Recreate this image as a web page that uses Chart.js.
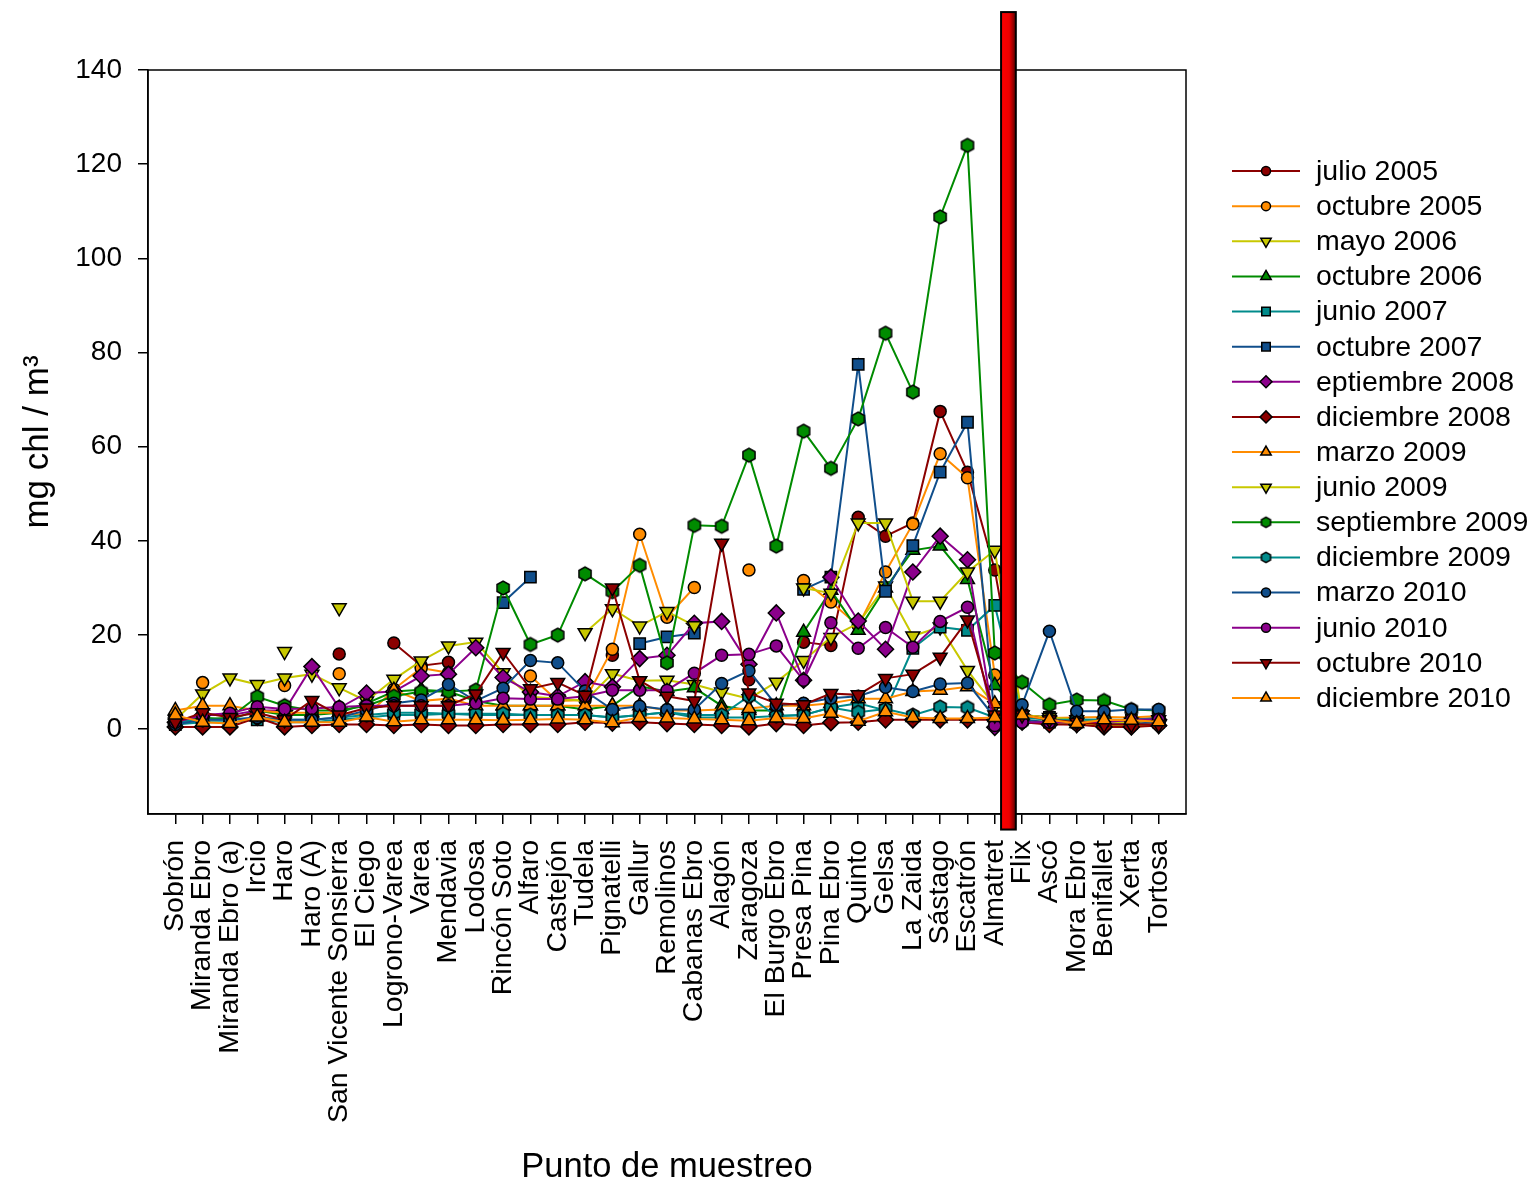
<!DOCTYPE html>
<html>
<head>
<meta charset="utf-8">
<script src="https://cdn.jsdelivr.net/npm/chart.js"></script>
<style>
  html, body { margin: 0; padding: 0; background: #fff; }
  #wrap { width: 1533px; height: 1181px; }
</style>
</head>
<body>
<div id="wrap"><canvas id="chl"></canvas></div>
<script>
const stations = ["Sobrón", "Miranda Ebro", "Miranda Ebro (a)", "Ircio", "Haro", "Haro (A)",
  "San Vicente Sonsierra", "El Ciego", "Logrono-Varea", "Varea", "Mendavia", "Lodosa",
  "Rincón Soto", "Alfaro", "Castejón", "Tudela", "Pignatelli", "Gallur", "Remolinos",
  "Cabanas Ebro", "Alagón", "Zaragoza", "El Burgo Ebro", "Presa Pina", "Pina Ebro", "Quinto",
  "Gelsa", "La Zaida", "Sástago", "Escatrón", "Almatret", "Flix", "Ascó", "Mora Ebro",
  "Benifallet", "Xerta", "Tortosa"];

const yTicks = [0, 20, 40, 60, 80, 100, 120, 140];

const julio2005 = [null, null, null, null, null, null, 16.0, null, 18.3, 13.5, 14.2, null, null, null, null, null, 15.7, null, null, null, null, 10.5, null, 18.5, 17.8, 45.0, 41.0, 43.8, 67.5, 54.6, 33.8, 1.5, 1.2, 1.0, 1.0, 0.8, 1.0];
const octubre2005 = [null, 9.9, null, null, 9.3, null, 11.8, null, 8.5, 13.0, 12.0, null, null, 11.3, 6.0, 6.2, 17.0, 41.4, 23.8, 30.1, null, 33.8, null, 31.6, 27.0, 22.0, 33.4, 43.6, 58.5, 53.4, 11.5, 3.0, 2.0, 1.5, 1.5, 1.5, 1.5];
const mayo2006 = [2.0, 7.5, 10.9, 9.5, 10.9, 11.7, 8.8, 6.0, 10.6, 14.5, 17.7, 18.5, 12.0, 6.9, 6.5, 6.0, 11.8, 10.3, 10.4, 9.5, 7.9, 6.5, 10.0, 14.6, 19.5, 22.5, 30.4, 19.8, 21.7, 12.5, 5.0, 2.0, 1.5, 1.0, 0.8, 0.6, 0.8];
const octubre2006 = [2.0, 2.5, 2.0, 4.0, 3.0, 3.0, 3.5, 5.5, 8.0, 8.4, 8.0, 6.0, 5.0, 5.0, 5.0, 4.2, 5.0, 9.1, 8.0, 8.8, 5.0, 4.0, 4.0, 20.6, 29.5, 21.0, 30.0, 38.0, 38.9, 31.8, 9.3, 3.0, 2.0, 2.0, 1.5, 1.5, 1.5];
const junio2007 = [1.0, 1.5, 1.5, 2.0, 1.5, 1.5, 2.0, 2.5, 3.0, 3.0, 3.3, 3.0, 3.0, 3.0, 3.0, 3.0, 2.5, 3.0, 3.6, 2.5, 2.5, 2.5, 2.8, 3.0, 4.6, 5.5, 4.0, 17.2, 21.7, 21.0, 26.3, 3.0, 2.5, 2.0, 2.0, 2.0, 2.5];
const octubre2007 = [null, null, null, null, null, null, null, null, null, null, null, null, 26.9, 32.3, null, null, null, 18.2, 19.6, 20.4, null, null, null, 29.7, 32.3, 77.5, 29.3, 39.0, 54.6, 65.2, 2.0, 2.0, 1.5, 1.5, 1.2, 1.2, 1.5];
const eptiembre2008 = [1.5, 3.0, 3.0, 4.0, 4.0, 13.3, 4.5, 7.7, 8.0, 11.3, 11.7, 17.3, 11.0, 7.9, 7.0, 10.1, 9.0, 15.0, 15.7, 22.5, 22.9, 13.8, 24.7, 10.4, 32.3, 23.0, 17.0, 33.4, 41.0, 36.0, 0.4, 3.0, 2.5, 2.0, 1.5, 1.5, 2.0];
const diciembre2008 = [0.5, 0.5, 0.5, 2.5, 0.5, 0.8, 1.0, 1.0, 0.8, 1.0, 0.8, 0.8, 1.0, 1.0, 1.0, 1.5, 1.3, 1.5, 1.2, 1.0, 0.8, 0.5, 1.2, 0.8, 1.4, 1.5, 2.0, 2.0, 2.0, 2.0, 2.0, 1.5, 1.0, 1.0, 0.5, 0.5, 0.8];
const marzo2009 = [4.0, 5.0, 5.0, 4.0, 3.5, 3.5, 3.5, 3.0, 8.3, 6.0, 6.5, 5.0, 5.0, 5.0, 5.0, 5.0, 5.0, 5.0, 4.0, 4.0, 4.2, 4.4, 5.0, 5.0, 5.5, 6.5, 6.5, 8.0, 8.3, 9.0, 5.4, 3.0, 2.4, 2.5, 2.6, 2.5, 2.8];
const junio2009 = [null, null, null, null, 16.5, null, 25.8, null, null, null, null, null, null, null, null, 20.5, 25.6, 21.9, 25.0, 22.0, null, null, null, 30.0, 28.9, 43.8, 43.8, 27.2, 27.2, 33.4, 38.0, 3.0, 2.5, 2.0, 1.5, 1.5, 2.0];
const septiembre2009 = [1.5, 2.0, 2.5, 6.9, 5.0, 4.0, 4.0, 5.0, 7.0, 8.0, 8.0, 8.3, 30.0, 18.0, 20.0, 33.0, 29.2, 34.8, 14.1, 43.3, 43.1, 58.2, 38.9, 63.3, 55.4, 65.9, 84.1, 71.6, 108.8, 124.0, 16.2, 10.0, 5.2, 6.2, 6.1, 4.2, 4.0];
const diciembre2009 = [1.5, 2.0, 2.0, 2.5, 2.0, 2.0, 2.5, 3.0, 3.5, 3.5, 3.3, 3.3, 3.3, 3.0, 3.0, 3.0, 2.5, 3.0, 3.6, 3.0, 3.0, 7.0, 2.8, 3.0, 4.6, 3.6, 4.3, 3.0, 4.7, 4.6, 2.5, 2.5, 2.0, 2.0, 2.0, 1.8, 2.0];
const marzo2010 = [1.0, 2.0, 2.0, 2.5, 2.0, 2.0, 2.5, 4.0, 5.5, 6.2, 9.5, 6.0, 8.7, 14.6, 14.1, 8.1, 4.2, 4.9, 4.2, 4.2, 9.7, 12.4, 5.1, 5.5, 6.6, 7.0, 8.9, 8.0, 9.6, 9.8, 2.5, 5.2, 20.8, 3.8, 3.8, 4.2, 4.2];
const junio2010 = [1.5, 3.0, 3.4, 4.8, 4.3, 4.4, 4.7, 5.0, 5.0, 5.0, 5.0, 5.5, 6.6, 6.4, 6.4, 7.0, 8.3, 8.3, 8.3, 11.9, 15.7, 15.9, 17.7, 10.4, 22.6, 17.2, 21.6, 17.4, 22.9, 25.9, 0.8, 1.5, 1.5, 1.5, 1.5, 2.0, 2.1];
const octubre2010 = [1.5, 3.5, 2.5, 3.5, 2.0, 6.1, 3.0, 4.5, 5.0, 5.0, 5.0, 7.5, 16.3, 8.6, 9.9, 7.2, 30.0, 10.3, 7.0, 6.0, 39.5, 7.7, 5.5, 5.2, 7.6, 7.3, 10.8, 11.7, 15.3, 23.2, 3.0, 3.0, 2.0, 1.5, 1.0, 1.0, 1.0];
const diciembre2010 = [3.0, 1.5, 1.2, 2.6, 1.5, 1.5, 1.5, 2.6, 1.6, 2.0, 2.0, 2.0, 1.9, 2.0, 2.2, 2.0, 1.4, 2.5, 2.4, 2.2, 2.0, 1.8, 2.4, 2.3, 3.4, 1.7, 3.7, 2.5, 2.3, 2.3, 2.5, 3.0, 2.0, 1.2, 2.0, 1.9, 1.6];

const DARKRED = "#8B0000", ORANGE = "#FF8C00", YELLOW = "#C8C800", GREEN = "#008B00",
  TEAL = "#008B8B", BLUE = "#104E8B", PURPLE = "#8B008B";

// little hexagon marker image (no built-in hexagon in Chart.js)
function hexagon(color, r) {
  const c = document.createElement("canvas");
  const s = Math.ceil(2 * r + 4);
  c.width = c.height = s;
  const g = c.getContext("2d");
  g.beginPath();
  for (let k = 0; k < 6; k++) {
    const a = Math.PI / 6 + k * Math.PI / 3;
    const px = s / 2 + r * Math.cos(a), py = s / 2 + r * Math.sin(a);
    k ? g.lineTo(px, py) : g.moveTo(px, py);
  }
  g.closePath();
  g.fillStyle = color;
  g.fill();
  g.lineWidth = 1.5;
  g.strokeStyle = "#000";
  g.stroke();
  return c;
}

const series = [
  { label: "julio 2005", data: julio2005, color: DARKRED, shape: "circle" },
  { label: "octubre 2005", data: octubre2005, color: ORANGE, shape: "circle" },
  { label: "mayo 2006", data: mayo2006, color: YELLOW, shape: "down" },
  { label: "octubre 2006", data: octubre2006, color: GREEN, shape: "up" },
  { label: "junio 2007", data: junio2007, color: TEAL, shape: "square" },
  { label: "octubre 2007", data: octubre2007, color: BLUE, shape: "square" },
  { label: "eptiembre 2008", data: eptiembre2008, color: PURPLE, shape: "diamond" },
  { label: "diciembre 2008", data: diciembre2008, color: DARKRED, shape: "diamond" },
  { label: "marzo 2009", data: marzo2009, color: ORANGE, shape: "up" },
  { label: "junio 2009", data: junio2009, color: YELLOW, shape: "down" },
  { label: "septiembre 2009", data: septiembre2009, color: GREEN, shape: "hex" },
  { label: "diciembre 2009", data: diciembre2009, color: TEAL, shape: "hex" },
  { label: "marzo 2010", data: marzo2010, color: BLUE, shape: "circle" },
  { label: "junio 2010", data: junio2010, color: PURPLE, shape: "circle" },
  { label: "octubre 2010", data: octubre2010, color: DARKRED, shape: "down" },
  { label: "diciembre 2010", data: diciembre2010, color: ORANGE, shape: "up" },
];

function markerOpts(s, scale) {
  switch (s.shape) {
    case "circle": return { pointStyle: "circle", pointRadius: 6 * scale, pointRotation: 0 };
    case "up": return { pointStyle: "triangle", pointRadius: 8 * scale, pointRotation: 0 };
    case "down": return { pointStyle: "triangle", pointRadius: 8 * scale, pointRotation: 180 };
    case "square": return { pointStyle: "rect", pointRadius: 8 * scale, pointRotation: 0 };
    case "diamond": return { pointStyle: "rectRot", pointRadius: 8 * scale, pointRotation: 0 };
    case "hex": return { pointStyle: hexagon(s.color, 7 * scale), pointRadius: 7 * scale, pointRotation: 0 };
  }
}

const FONT = "'Liberation Sans', Arial, Helvetica, sans-serif";

const datasets = series.map((s, i) => {
  const m = markerOpts(s, 1);
  return {
    label: s.label,
    data: s.data.map((v, k) => ({ x: k, y: v })),
    borderColor: s.color,
    borderWidth: 2,
    backgroundColor: s.color,
    pointBackgroundColor: s.color,
    pointBorderColor: "#000",
    pointBorderWidth: 1.5,
    pointStyle: m.pointStyle,
    pointRadius: m.pointRadius,
    pointRotation: m.pointRotation,
    spanGaps: false,
    tension: 0,
    order: series.length - i,
  };
});

// outer frame, legend and the red bar between Almatret and Flix
const decorations = {
  id: "decorations",
  afterDraw(chart) {
    const { ctx, chartArea: a, scales } = chart;
    ctx.save();
    ctx.strokeStyle = "#000";
    ctx.lineWidth = 1.5;
    ctx.strokeRect(a.left, a.top, a.right - a.left, a.bottom - a.top);

    // legend
    const x0 = 1232, x1 = 1300, tx = 1316, top = 171, step = 35.13;
    ctx.font = "28.5px " + FONT;
    ctx.textBaseline = "middle";
    series.forEach((s, i) => {
      const y = top + i * step;
      ctx.strokeStyle = s.color;
      ctx.lineWidth = 2;
      ctx.beginPath();
      ctx.moveTo(x0, y);
      ctx.lineTo(x1, y);
      ctx.stroke();
      const m = markerOpts(s, 0.75);
      ctx.fillStyle = s.color;
      ctx.strokeStyle = "#000";
      ctx.lineWidth = 1.5;
      Chart.helpers.drawPoint(ctx, {
        pointStyle: m.pointStyle, radius: m.pointRadius, rotation: m.pointRotation, borderWidth: 1.5,
      }, (x0 + x1) / 2, y);
      ctx.fillStyle = "#000";
      ctx.fillText(s.label, tx, y + 1);
    });

    // red bar
    const xs = scales.x, ys = scales.y;
    const cx = xs.getPixelForValue(30.5);
    const half = (xs.getPixelForValue(1) - xs.getPixelForValue(0)) * 0.27;
    const yt = ys.getPixelForValue(152.3), yb = ys.getPixelForValue(-21.3);
    const grad = ctx.createLinearGradient(cx - half, 0, cx + half, 0);
    grad.addColorStop(0, "#ff0000");
    grad.addColorStop(0.55, "#ee0000");
    grad.addColorStop(1, "#5a0000");
    ctx.fillStyle = grad;
    ctx.fillRect(cx - half, yt, 2 * half, yb - yt);
    ctx.strokeStyle = "#000";
    ctx.lineWidth = 2;
    ctx.strokeRect(cx - half, yt, 2 * half, yb - yt);
    ctx.restore();
  },
};

new Chart(document.getElementById("chl"), {
  type: "line",
  data: { datasets },
  plugins: [decorations],
  options: {
    responsive: true,
    maintainAspectRatio: false,
    animation: false,
    layout: { padding: { left: 0, top: 70, right: 347, bottom: 0 } },
    plugins: { legend: { display: false }, tooltip: { enabled: false } },
    scales: {
      x: {
        type: "linear",
        min: -1,
        max: 37,
        afterBuildTicks: (axis) => { axis.ticks = stations.map((_, i) => ({ value: i })); },
        afterFit: (scale) => { scale.height = 367; },
        ticks: {
          autoSkip: false,
          minRotation: 90,
          maxRotation: 90,
          padding: 16,
          color: "#000",
          font: { family: FONT, size: 28.5 },
          callback: (v) => stations[v] ?? "",
        },
        grid: { drawOnChartArea: false, drawTicks: true, tickLength: 10, color: "#000", lineWidth: 1.5 },
        border: { display: true, color: "#000", width: 1.5 },
        title: {
          display: true, text: "Punto de muestreo", color: "#000",
          font: { family: FONT, size: 34.5, lineHeight: 0.8 }, padding: 0,
        },
      },
      y: {
        type: "linear",
        min: -18,
        max: 140,
        afterBuildTicks: (axis) => { axis.ticks = yTicks.map((v) => ({ value: v })); },
        afterFit: (scale) => { scale.width = 148; },
        ticks: { padding: 16, color: "#000", font: { family: FONT, size: 28 } },
        grid: { drawOnChartArea: false, drawTicks: true, tickLength: 10, color: "#000", lineWidth: 1.5 },
        border: { display: true, color: "#000", width: 1.5 },
        title: {
          display: true, text: "mg chl / m³", color: "#000",
          font: { family: FONT, size: 35 }, padding: { top: 17, bottom: 0 },
        },
      },
    },
  },
});
</script>
</body>
</html>
